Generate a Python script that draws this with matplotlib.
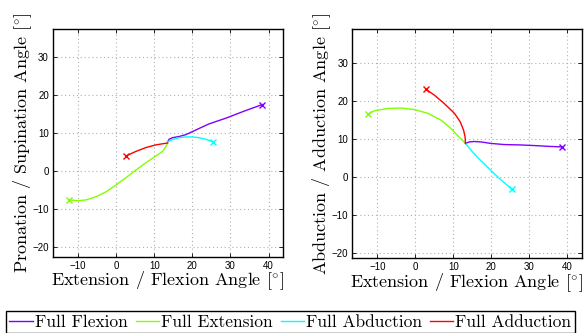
import matplotlib
matplotlib.use("Agg")
import matplotlib.pyplot as plt

plt.rcParams['mathtext.fontset'] = 'cm'

# ---- data: left plot (Pronation/Supination vs Extension/Flexion)
L_flex_x = [13.5, 13.9, 14.8, 16.5, 18.3, 20.0, 24.3, 28.7, 33.9, 38.3]
L_flex_y = [7.6, 8.3, 8.7, 9.0, 9.5, 10.3, 12.3, 13.8, 15.8, 17.4]
L_ext_x = [13.5, 13.0, 12.2, 10.4, 7.8, 5.2, 2.6, 0.0, -2.6, -5.2, -7.8, -10.0, -12.3]
L_ext_y = [7.3, 6.3, 5.1, 3.9, 2.1, 0.2, -1.8, -3.7, -5.5, -6.8, -7.65, -7.9, -7.65]
L_abd_x = [13.5, 14.8, 16.5, 18.3, 20.0, 21.7, 23.5, 25.4]
L_abd_y = [7.6, 8.2, 8.7, 8.9, 8.9, 8.7, 8.3, 7.6]
L_add_x = [13.5, 12.2, 10.4, 7.8, 5.2, 2.6]
L_add_y = [7.3, 7.1, 6.8, 6.1, 5.1, 3.9]

# ---- data: right plot (Abduction/Adduction vs Extension/Flexion)
R_flex_x = [13.2, 14.2, 15.5, 17.2, 19.9, 23.4, 27.7, 32.1, 35.6, 38.5]
R_flex_y = [8.9, 9.3, 9.4, 9.3, 8.9, 8.6, 8.5, 8.3, 8.1, 8.0]
R_ext_x = [13.2, 11.6, 9.4, 6.8, 3.3, -0.2, -3.7, -7.2, -10.7, -12.5]
R_ext_y = [8.9, 10.5, 12.8, 15.0, 16.8, 17.8, 18.2, 18.1, 17.5, 16.6]
R_abd_x = [13.2, 14.6, 16.4, 18.6, 20.7, 22.9, 25.5]
R_abd_y = [8.9, 7.2, 5.2, 3.1, 1.0, -1.0, -3.2]
R_add_x = [13.2, 13.1, 12.7, 11.8, 10.3, 7.6, 5.0, 2.8]
R_add_y = [8.9, 10.6, 12.4, 14.6, 16.8, 19.4, 21.6, 23.1]

labels = ['Full Flexion', 'Full Extension', 'Full Abduction', 'Full Adduction']
colors = [(0.5, 0, 1), (0.5, 1, 0), (0, 1, 1), (1, 0, 0)]
ticks = [-20, -10, 0, 10, 20, 30, 40]

fig = plt.figure(figsize=(5.85, 3.33), dpi=100)
axL = fig.add_axes([53/585, 1-257/333, 230/585, 228/333])
axR = fig.add_axes([352.3/585, 1-258.3/333, 229.4/585, 229/333])

series = [
    (axL, [(L_flex_x, L_flex_y), (L_ext_x, L_ext_y), (L_abd_x, L_abd_y), (L_add_x, L_add_y)],
     (-22.7, 37.3), 'Pronation / Supination Angle [$^{\\circ}$]'),
    (axR, [(R_flex_x, R_flex_y), (R_ext_x, R_ext_y), (R_abd_x, R_abd_y), (R_add_x, R_add_y)],
     (-21.3, 38.9), 'Abduction / Adduction Angle [$^{\\circ}$]'),
]

handles = []
for ax, data, ylim, ylab in series:
    hs = []
    for (xs, ys), c, lab in zip(data, colors, labels):
        h, = ax.plot(xs, ys, color=c, lw=1.0, label=lab)
        ax.plot([xs[-1]], [ys[-1]], marker='x', color=c, ms=5, mew=1.0, ls='none')
        hs.append(h)
    handles = hs
    ax.set_xlim(-16.6, 43.8)
    ax.set_ylim(*ylim)
    ax.set_xticks([-10, 0, 10, 20, 30, 40])
    ax.set_yticks([t for t in ticks if ylim[0] <= t <= ylim[1]])
    ax.grid(True, color='#b0b0b0', ls=(0, (1, 2.5)), lw=0.8)
    ax.tick_params(direction='in', length=3, width=0.6, labelsize=7, pad=3,
                   top=True, right=True)
    for lab in ax.get_xticklabels() + ax.get_yticklabels():
        lab.set_family('Liberation Sans')
    for s in ax.spines.values():
        s.set_linewidth(1.0)
    ax.set_xlabel('Extension / Flexion Angle [$^{\\circ}$]', family='cmr10', fontsize=13, labelpad=-1)
    ax.set_ylabel(ylab, family='cmr10', fontsize=13, labelpad=-1)

leg = fig.legend(handles=handles, labels=labels, loc='upper left',
                 bbox_to_anchor=(6/585, 1-311/333), ncol=4,
                 prop={'family': 'cmr10', 'size': 12.5},
                 handlelength=1.35, handletextpad=0.12, columnspacing=0.45,
                 borderpad=0.2, borderaxespad=0, fancybox=False,
                 edgecolor='black', framealpha=1)
leg.get_frame().set_linewidth(1.0)

fig.savefig('out.png', dpi=100)
